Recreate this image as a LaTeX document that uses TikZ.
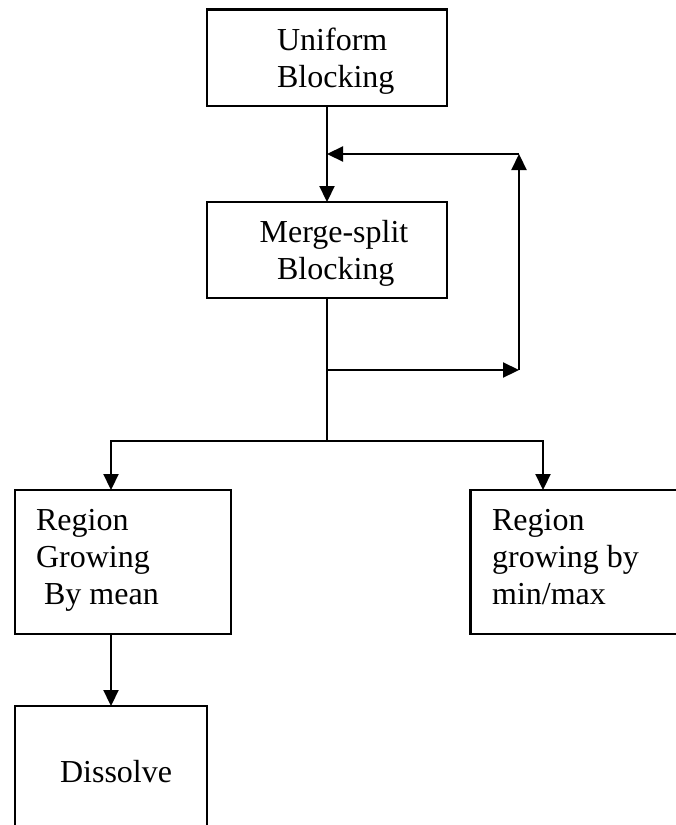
\documentclass[tikz,border=0pt]{standalone}
\usepackage{fontspec}
\setmainfont{Liberation Serif}
\usetikzlibrary{arrows.meta}
\begin{document}
\begin{tikzpicture}[x=1pt,y=-1pt, line width=2.2pt,
  box/.style={draw, rectangle, inner sep=0pt, outer sep=0pt},
  lbl/.style={anchor=base west, inner sep=0pt, font=\fontsize{32}{37}\selectfont},
  arr/.style={-{Triangle[width=15pt,length=16pt]}}]
\clip (0,0) rectangle (676,825);
% boxes
\node[box, minimum width=240pt, minimum height=96.5pt] (uni) at (327,57.75) {};
\node[box, minimum width=240pt, minimum height=96pt] (mer) at (327,250) {};
\node[box, minimum width=216pt, minimum height=144pt] (rgl) at (123,562) {};
\node[box, minimum width=229.5pt, minimum height=144pt] (rgr) at (585.25,562) {};
\node[box, minimum width=192pt, minimum height=154pt] (dis) at (111,783) {};
% texts
\node[lbl] (t1) at (276,50) {Uniform};
\node[lbl] (t2) at (276,87) {Blocking};
\node[lbl] (t3) at (258.5,242) {Merge-split};
\node[lbl] (t4) at (276,279) {Blocking};
\node[lbl] (t5) at (35,530) {Region};
\node[lbl] (t6) at (35,567) {Growing};
\node[lbl] (t7) at (43,604) {By mean};
\node[lbl] (t8) at (491,530) {Region};
\node[lbl] (t9) at (491,567) {growing by};
\node[lbl] (t10) at (491,604) {min/max};
\node[lbl] (t11) at (59,782) {Dissolve};
% coordinates
\coordinate (fbL) at (327,370);
\coordinate (fbR) at (519,370);
\coordinate (fbT) at (519,154);
\coordinate (fbJ) at (327,154);
\coordinate (split) at (327,441);
\coordinate (bl) at (111,441);
\coordinate (br) at (543,441);
% connectors
\draw[arr] (uni.south) -- (mer.north);
\draw (mer.south) -- (split);
\draw[arr] (fbL) -- (fbR);
\draw[arr] (fbR) -- (fbT);
\draw[arr] (fbT) -- (fbJ);
\draw[arr] (split) -| (bl |- rgl.north);
\draw[arr] (split) -| (br |- rgr.north);
\draw[arr] (bl |- rgl.south) -- (bl |- dis.north);
\end{tikzpicture}
\end{document}
